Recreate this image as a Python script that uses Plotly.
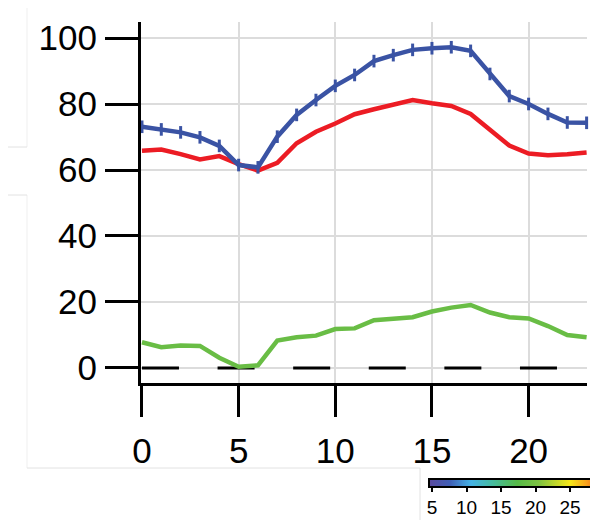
import plotly.graph_objects as go

# ---- data ----
hours = list(range(24))
blue_vals = [73.1, 72.3, 71.4, 69.9, 67.3, 61.5, 60.8, 70.1, 76.7, 81.2, 85.5, 88.8,
             93.0, 94.8, 96.4, 96.9, 97.2, 96.1, 89.1, 82.4, 80.0, 77.0, 74.4, 74.3]
red_vals = [65.8, 66.2, 64.8, 63.2, 64.2, 61.8, 59.8, 62.2, 68.1, 71.6, 74.1, 76.9,
            78.4, 79.7, 81.2, 80.2, 79.4, 77.0, 72.1, 67.4, 65.0, 64.5, 64.8, 65.3]
green_vals = [7.8, 6.3, 6.8, 6.7, 3.1, 0.4, 0.8, 8.3, 9.3, 9.8, 11.8, 12.0,
              14.5, 15.0, 15.4, 17.1, 18.3, 19.1, 16.8, 15.4, 15.0, 12.7, 10.0, 9.3]
ref_x = [0, 21.5]
ref_y = [0, 0]
x_ticks = [0, 5, 10, 15, 20]
y_ticks = [0, 20, 40, 60, 80, 100]
cbar_ticks = [5, 10, 15, 20, 25, 30]
cbar_min, cbar_max = 4.55, 35

BLUE = "#3a53a4"
RED = "#ec1c24"
GREEN = "#69bd45"

colorscale = [
    [0.0, "#5b4a9e"], [0.1, "#3f5fb6"], [0.2, "#45b3e6"], [0.3, "#45bba0"],
    [0.42, "#55b947"], [0.52, "#7cc242"], [0.67, "#f6e81a"], [0.75, "#f8a01b"],
    [0.83, "#f04a22"], [1.0, "#c51f24"],
]

# page has an 8px body margin; figure is sized/margined to compensate
OFF = 8

fig = go.Figure()

fig.add_trace(go.Scatter(x=ref_x, y=ref_y, mode="lines",
                         line=dict(color="black", width=3, dash="37px,38.6px"),
                         showlegend=False, hoverinfo="skip"))
fig.add_trace(go.Scatter(x=hours, y=green_vals, mode="lines",
                         line=dict(color=GREEN, width=4.5), showlegend=False))
fig.add_trace(go.Scatter(x=hours, y=red_vals, mode="lines",
                         line=dict(color=RED, width=4.5), showlegend=False))
fig.add_trace(go.Scatter(x=hours, y=blue_vals, mode="lines+markers",
                         line=dict(color=BLUE, width=4.5),
                         marker=dict(symbol="line-ns", size=9,
                                     line=dict(color=BLUE, width=3)),
                         showlegend=False, cliponaxis=False))

# colorbar holder (hidden point below range)
fig.add_trace(go.Scatter(
    x=[10], y=[-50], mode="markers", showlegend=False, hoverinfo="skip",
    marker=dict(color=[10], cmin=cbar_min, cmax=cbar_max,
                colorscale=colorscale, showscale=True, size=1,
                colorbar=dict(orientation="h", xanchor="left", yanchor="top",
                              x=(429 - 141) / 446, y=(383 - 479) / 361,
                              thickness=8, thicknessmode="pixels",
                              len=210, lenmode="pixels",
                              outlinewidth=2, outlinecolor="black",
                              tickvals=cbar_ticks, ticks="outside", ticklen=4,
                              tickwidth=2, tickcolor="black",
                              tickfont=dict(size=19, color="black",
                                            family="Liberation Sans"),
                              xpad=0, ypad=0))))

def px2paper(px, py):
    return (px - 141) / 446, (383 - py) / 361

shapes = []
def add_line(p1, p2, color="#e2e2e2"):
    x0, y0 = px2paper(*p1)
    x1, y1 = px2paper(*p2)
    shapes.append(dict(type="line", xref="paper", yref="paper",
                       x0=x0, y0=y0, x1=x1, y1=y1,
                       line=dict(color=color, width=1)))

add_line((27, 0), (27, 147), "#efefef")
add_line((27, 195), (27, 468), "#efefef")
add_line((0, 147), (27, 147))
add_line((0, 195), (27, 195))
add_line((27, 468), (420, 468))
add_line((420, 468), (420, 520))

fig.update_layout(
    width=598 - OFF, height=520 - OFF,
    margin=dict(l=141 - OFF, r=11, t=22 - OFF, b=137, autoexpand=False),
    paper_bgcolor="white", plot_bgcolor="white",
    font=dict(family="Liberation Sans", color="black"),
    shapes=shapes,
    xaxis=dict(range=[-0.05, 23.02], tickvals=x_ticks, showgrid=True,
               gridcolor="#dcdcdc", gridwidth=1.5, zeroline=False,
               showline=True, linecolor="black", linewidth=3,
               ticks="outside", ticklen=31, tickwidth=3, tickcolor="black",
               tickfont=dict(size=35), ticklabelstandoff=4),
    yaxis=dict(range=[-4.55, 104.85], tickvals=y_ticks, showgrid=True,
               gridcolor="#dcdcdc", gridwidth=1.5, zeroline=False,
               showline=True, linecolor="black", linewidth=3,
               ticks="outside", ticklen=33, tickwidth=3, tickcolor="black",
               tickfont=dict(size=35), ticklabelstandoff=1),
)

fig.write_html("out.html")
